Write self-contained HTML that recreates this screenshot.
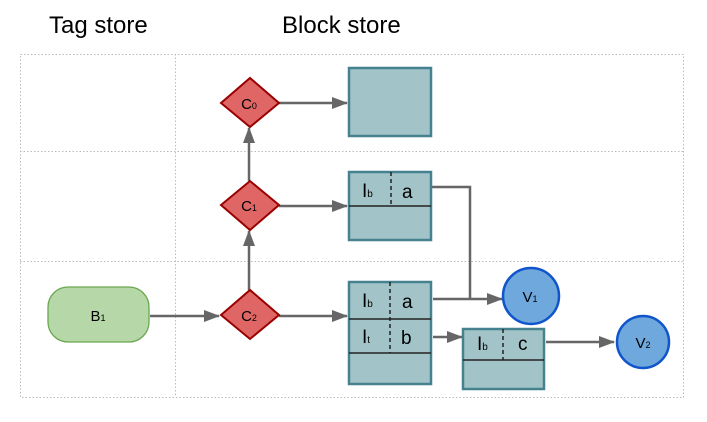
<!DOCTYPE html>
<html><head><style>body{margin:0;background:#fff}svg{display:block}</style></head><body>
<svg width="707" height="422" viewBox="0 0 707 422" xmlns="http://www.w3.org/2000/svg" font-family="Liberation Sans, sans-serif">
<defs>
<marker id="ah" markerWidth="16" markerHeight="12" refX="15" refY="6" orient="auto" markerUnits="userSpaceOnUse"><path d="M0,0 L16,6 L0,12 z" fill="#666"/></marker></defs>
<text x="49" y="33" font-size="24">Tag store</text>
<text x="282" y="33" font-size="24">Block store</text>
<g stroke="#bbb" stroke-width="1" stroke-dasharray="1.5,2" fill="none">
<rect x="20.5" y="54.5" width="663" height="343"/>
<line x1="175.5" y1="54" x2="175.5" y2="397"/>
<line x1="20" y1="151.5" x2="683" y2="151.5"/>
<line x1="20" y1="261.5" x2="683" y2="261.5"/>
</g>
<g stroke="#666" stroke-width="2.5" fill="none">
<line x1="150" y1="316" x2="219" y2="316" marker-end="url(#ah)"/>
<line x1="279" y1="316" x2="347" y2="316" marker-end="url(#ah)"/>
<line x1="249" y1="290" x2="249" y2="231" marker-end="url(#ah)"/>
<line x1="249" y1="181" x2="249" y2="128" marker-end="url(#ah)"/>
<line x1="279" y1="206" x2="347" y2="206" marker-end="url(#ah)"/>
<line x1="279" y1="103" x2="347" y2="103" marker-end="url(#ah)"/>
<polyline points="432,187 470,187 470,299"/>
<line x1="433" y1="299" x2="502" y2="299" marker-end="url(#ah)"/>
<line x1="433" y1="337" x2="462" y2="337" marker-end="url(#ah)"/>
<line x1="546" y1="342" x2="614" y2="342" marker-end="url(#ah)"/>
</g>
<rect x="48" y="287" width="101" height="55" rx="20" fill="#b6d7a8" stroke="#6aa84f" stroke-width="1.3"/>
<text x="98" y="321" font-size="15" text-anchor="middle">B<tspan font-size="9">1</tspan></text>
<g fill="#e06666" stroke="#990000" stroke-width="2">
<polygon points="221,103 250,78 279,103 250,127"/>
<polygon points="221,205 250,181 279,205 250,230"/>
<polygon points="221,315 250,290 279,315 250,339"/>
</g>
<g font-size="15" text-anchor="middle">
<text x="249" y="109">C<tspan font-size="9">0</tspan></text>
<text x="249" y="211">C<tspan font-size="9">1</tspan></text>
<text x="249" y="321">C<tspan font-size="9">2</tspan></text>
</g>
<g fill="#a2c4c9" stroke="#45818e" stroke-width="2.5">
<rect x="349" y="68" width="82" height="68"/>
<rect x="349" y="172" width="82" height="68"/>
<rect x="349" y="282" width="82" height="102"/>
<rect x="463" y="329" width="81" height="60"/>
</g>
<g stroke="#222" stroke-width="1.5">
<line x1="349" y1="206" x2="431" y2="206"/>
<line x1="349" y1="319" x2="431" y2="319"/>
<line x1="349" y1="353" x2="431" y2="353"/>
<line x1="463" y1="360" x2="544" y2="360"/>
</g>
<g stroke="#222" stroke-width="1.5" stroke-dasharray="4,3">
<line x1="391" y1="172" x2="391" y2="206"/>
<line x1="390" y1="282" x2="390" y2="353"/>
<line x1="503" y1="329" x2="503" y2="360"/>
</g>
<g font-size="19">
<text x="362" y="197">I<tspan font-size="10">b</tspan></text><text x="402" y="198">a</text>
<text x="362" y="307">I<tspan font-size="10">b</tspan></text><text x="402" y="308">a</text>
<text x="362" y="343">I<tspan font-size="10">t</tspan></text><text x="401" y="344">b</text>
<text x="477" y="350">I<tspan font-size="10">b</tspan></text><text x="518" y="350">c</text>
</g>
<circle cx="531" cy="296" r="28" fill="#6fa8dc" stroke="#1155cc" stroke-width="2.5"/>
<circle cx="643" cy="342" r="26" fill="#6fa8dc" stroke="#1155cc" stroke-width="2.5"/>
<text x="530" y="302" font-size="15" text-anchor="middle">V<tspan font-size="9">1</tspan></text>
<text x="643" y="348" font-size="15" text-anchor="middle">V<tspan font-size="9">2</tspan></text>
</svg>
</body></html>
